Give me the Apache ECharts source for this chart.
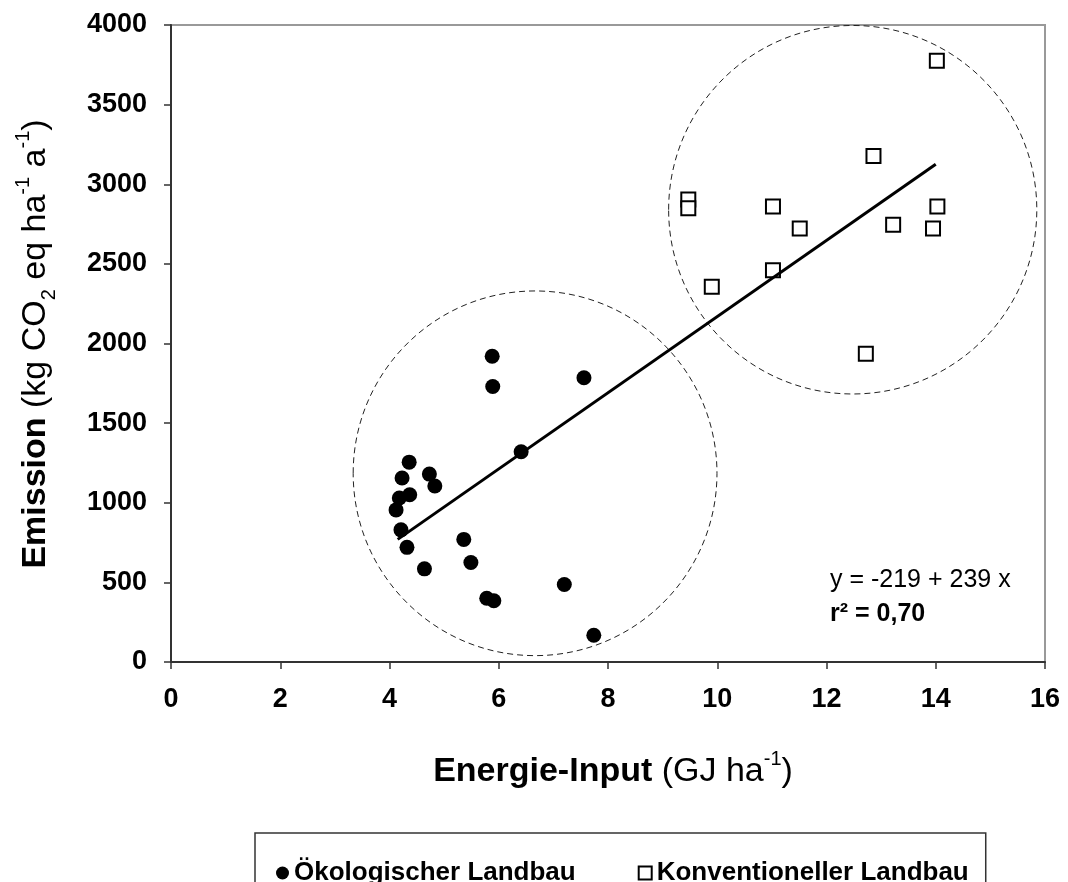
<!DOCTYPE html>
<html>

<head>
    <meta charset="utf-8" />
    <script src="https://cdn.jsdelivr.net/npm/echarts@6/dist/echarts.min.js"></script>
</head>

<body style="margin:0">
    <style>
        html,
        body {
            background: #fff;
        }

        #main {
            width: 1068px;
            height: 882px;
        }
    </style>
    <div id="main"></div>

    <script type="text/javascript">
        // values
        const ecoName = 'Ökologischer Landbau';
        const konvName = 'Konventioneller Landbau';

        const ecoX = [5.88, 5.89, 7.56, 6.41, 4.36, 4.23, 4.73, 4.83, 4.37, 4.18, 4.12, 4.21, 4.32, 4.64, 5.36, 5.49, 5.78, 5.91, 7.20, 7.74];
        const ecoY = [1920, 1730, 1785, 1320, 1255, 1155, 1180, 1105, 1050, 1030, 955, 830, 720, 585, 770, 625, 400, 385, 487, 168];

        const konvX = [14.02, 12.86, 9.47, 9.47, 11.02, 11.51, 13.22, 14.03, 13.95, 11.02, 9.90, 12.72];
        const konvY = [3775, 3177, 2905, 2850, 2860, 2722, 2745, 2860, 2722, 2460, 2356, 1935];

        // regression line end points (y = -219 + 239 x)
        const trendX = [4.15, 14.0];
        const trendY = [770, 3125];

        // dashed group circles: [cx, cy, rx, ry] in data units
        const ecoCircle = [6.665, 1185, 3.33, 1145];
        const konvCircle = [12.48, 2840, 3.37, 1157];

        const xTicks = { min: 0, max: 16, interval: 2 };
        const yTicks = { min: 0, max: 4000, interval: 500 };

        const zip = (xs, ys) => xs.map((x, i) => [x, ys[i]]);
        const FONT = '"Liberation Sans", Arial, sans-serif';

        var chart = echarts.init(document.getElementById('main'), null, { renderer: 'canvas' });

        const axisCommon = {
            axisLine: { show: true, onZero: false, lineStyle: { color: '#333', width: 2 } },
            axisTick: { show: true, inside: false, length: 7, lineStyle: { color: '#333', width: 1.5 } },
            splitLine: { show: false },
            axisLabel: {
                color: '#000',
                fontFamily: FONT,
                fontWeight: 'bold',
                fontSize: 27,
                margin: 24,
                formatter: (v) => String(v),
            },
        };

        chart.setOption({
            animation: false,
            backgroundColor: '#fff',
            grid: {
                left: 171,
                right: 23,
                top: 25,
                bottom: 220,
                show: true,
                borderColor: '#999',
                borderWidth: 2,
                backgroundColor: 'transparent',
            },
            xAxis: Object.assign({}, axisCommon, {
                type: 'value',
                min: xTicks.min,
                max: xTicks.max,
                interval: xTicks.interval,
            }),
            yAxis: Object.assign({}, axisCommon, {
                type: 'value',
                min: yTicks.min,
                max: yTicks.max,
                interval: yTicks.interval,
            }),
            legend: {
                left: 255,
                top: 833,
                data: [
                    { name: ecoName, icon: 'circle' },
                    { name: konvName, icon: 'rect' },
                ],
                itemWidth: 13,
                itemHeight: 13,
                itemGap: 62,
                itemTextGap: 8,
                padding: [27, 17, 30, 21],
                borderColor: '#333',
                borderWidth: 1.5,
                textStyle: {
                    color: '#000',
                    fontFamily: FONT,
                    fontWeight: 'bold',
                    fontSize: 26,
                },
            },
            series: [
                {
                    type: 'scatter',
                    name: ecoName,
                    data: zip(ecoX, ecoY),
                    symbol: 'circle',
                    symbolSize: 15,
                    itemStyle: { color: '#000', opacity: 1 },
                    z: 3,
                },
                {
                    type: 'scatter',
                    name: konvName,
                    data: zip(konvX, konvY),
                    symbol: 'rect',
                    symbolSize: 14,
                    itemStyle: { color: '#fff', borderColor: '#000', borderWidth: 2, opacity: 1 },
                    z: 3,
                },
                {
                    type: 'line',
                    name: 'trend',
                    data: zip(trendX, trendY),
                    showSymbol: false,
                    lineStyle: { color: '#000', width: 3 },
                    z: 4,
                },
            ],
        });

        // dashed circles and text annotations
        function ellipseOf(c) {
            const p = chart.convertToPixel({ gridIndex: 0 }, [c[0], c[1]]);
            const px = chart.convertToPixel({ gridIndex: 0 }, [c[0] + c[2], c[1] + c[3]]);
            return {
                type: 'ellipse',
                z: 1,
                silent: true,
                shape: { cx: p[0], cy: p[1], rx: Math.abs(px[0] - p[0]), ry: Math.abs(p[1] - px[1]) },
                style: { fill: 'none', stroke: '#222', lineWidth: 1, lineDash: [6, 4] },
            };
        }

        function titleRich(size) {
            const sm = Math.round(size * 0.6);
            return {
                b: { fontFamily: FONT, fontWeight: 'bold', fontSize: size, lineHeight: size + 12, verticalAlign: 'middle', fill: '#000' },
                n: { fontFamily: FONT, fontSize: size, lineHeight: size + 12, verticalAlign: 'middle', fill: '#000' },
                sup: { fontFamily: FONT, fontSize: sm, lineHeight: sm, verticalAlign: 'top', fill: '#000' },
                sub: { fontFamily: FONT, fontSize: sm, lineHeight: sm, verticalAlign: 'bottom', fill: '#000' },
            };
        }

        chart.setOption({
            graphic: [
                ellipseOf(ecoCircle),
                ellipseOf(konvCircle),
                {
                    type: 'text',
                    x: 36,
                    y: 344,
                    rotation: Math.PI / 2,
                    silent: true,
                    style: {
                        text: '{b|Emission}{n| (kg CO}{sub|2}{n| eq ha}{sup|-1}{n| a}{sup|-1}{n|)}',
                        rich: titleRich(34),
                        align: 'center',
                        verticalAlign: 'middle',
                    },
                },
                {
                    type: 'text',
                    x: 613,
                    y: 772,
                    silent: true,
                    style: {
                        text: '{b|Energie-Input}{n| (GJ ha}{sup|-1}{n|)}',
                        rich: titleRich(34),
                        align: 'center',
                        verticalAlign: 'middle',
                    },
                },
                {
                    type: 'text',
                    x: 830,
                    y: 580,
                    silent: true,
                    style: {
                        text: 'y = -219 + 239 x',
                        font: '25px ' + FONT,
                        fill: '#000',
                        verticalAlign: 'middle',
                    },
                },
                {
                    type: 'text',
                    x: 830,
                    y: 614,
                    silent: true,
                    style: {
                        text: 'r² = 0,70',
                        font: 'bold 25px ' + FONT,
                        fill: '#000',
                        verticalAlign: 'middle',
                    },
                },
            ],
        });
    </script>
</body>

</html>
